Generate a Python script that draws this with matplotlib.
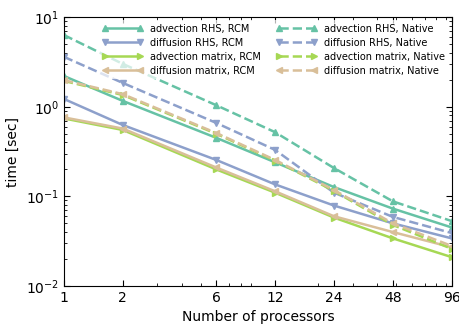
import numpy as np
import matplotlib
matplotlib.use("Agg")
import matplotlib.pyplot as plt
from matplotlib.ticker import FixedLocator, FixedFormatter, NullFormatter

procs = [1, 2, 6, 12, 24, 48, 96]

# RCM ordering (solid)
adv_rhs_rcm = [2.2, 1.16, 0.45, 0.24, 0.127, 0.073, 0.045]
diff_rhs_rcm = [1.22, 0.625, 0.255, 0.136, 0.079, 0.05, 0.034]
adv_mat_rcm = [0.74, 0.55, 0.2, 0.11, 0.058, 0.034, 0.021]
diff_mat_rcm = [0.76, 0.57, 0.21, 0.114, 0.06, 0.04, 0.027]

# native ordering (dashed)
adv_rhs_nat = [6.3, 3.0, 1.04, 0.52, 0.207, 0.088, 0.053]
diff_rhs_nat = [3.6, 1.84, 0.66, 0.33, 0.11, 0.059, 0.039]
adv_mat_nat = [1.94, 1.35, 0.5, 0.25, 0.115, 0.048, 0.026]
diff_mat_nat = [1.98, 1.38, 0.51, 0.255, 0.118, 0.05, 0.028]

names = ["advection RHS", "diffusion RHS", "advection matrix", "diffusion matrix"]
colors = ["#66c2a5", "#8da0cb", "#a6d854", "#d9bf99"]
markers = ["^", "v", ">", "<"]

fig, ax = plt.subplots(figsize=(4.6, 3.28), dpi=100)
fig.subplots_adjust(left=0.139, right=0.982, top=0.948, bottom=0.128)

rcm = [adv_rhs_rcm, diff_rhs_rcm, adv_mat_rcm, diff_mat_rcm]
nat = [adv_rhs_nat, diff_rhs_nat, adv_mat_nat, diff_mat_nat]

for name, c, m, y in zip(names, colors, markers, rcm):
    ax.plot(procs, y, "-", color=c, marker=m, lw=1.8, ms=5, mec=c,
            label=name + ", RCM")
for name, c, m, y in zip(names, colors, markers, nat):
    ax.plot(procs, y, "--", color=c, marker=m, lw=1.8, ms=5, mec=c,
            label=name + ", Native")

ax.set_xscale("log")
ax.set_yscale("log")
ax.set_xlim(1, 96)
ax.set_ylim(1e-2, 1e1)
ax.xaxis.set_major_locator(FixedLocator(procs))
ax.xaxis.set_major_formatter(FixedFormatter([str(p) for p in procs]))
ax.xaxis.set_minor_formatter(NullFormatter())
ax.tick_params(which="both", direction="in", top=True, right=True, labelsize=10)
ax.tick_params(which="major", length=4)
ax.tick_params(which="minor", length=2)

ax.set_xlabel("Number of processors", fontsize=10)
ax.set_ylabel("time [sec]", fontsize=10)

leg = ax.legend(ncol=2, loc="upper right", fontsize=7.0, numpoints=2,
                handlelength=4.2, handletextpad=0.7, columnspacing=1.6,
                labelspacing=0.4, framealpha=0.7, borderaxespad=0.3)
leg.get_frame().set_edgecolor("none")

fig.savefig("out.png", dpi=100)
